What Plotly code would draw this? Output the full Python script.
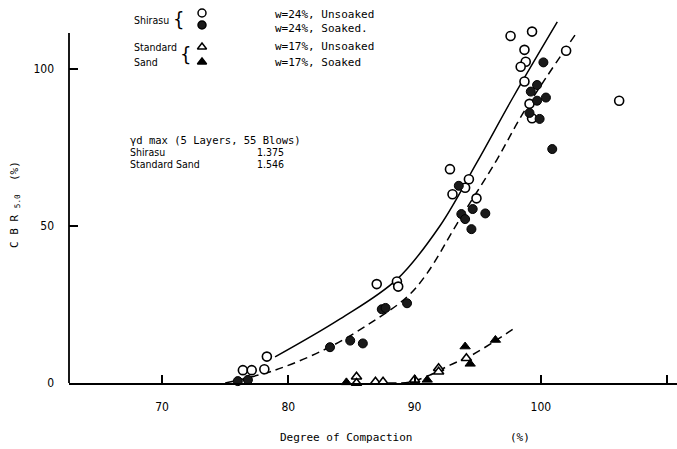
import plotly.graph_objects as go

# --- measured data -------------------------------------------------------
# Shirasu, w=24%, unsoaked (open circles)
shirasu_unsoaked_x = [76.4, 77.1, 78.3, 78.1, 87.0, 88.6, 88.7, 92.8, 94.3, 94.0, 93.0, 94.9,
                      97.6, 99.3, 98.7, 98.8, 98.4, 98.7, 102.0, 99.1, 99.3, 106.2]
shirasu_unsoaked_y = [4.1, 4.1, 8.4, 4.4, 31.5, 32.3, 30.7, 68.1, 64.9, 62.2, 60.1, 58.8,
                      110.5, 111.9, 106.1, 102.3, 100.7, 96.0, 105.8, 88.9, 84.3, 89.9]

# Shirasu, w=24%, soaked (shaded circles)
shirasu_soaked_x = [76.0, 76.8, 83.3, 84.9, 85.9, 87.4, 87.7, 89.4, 93.5, 94.6, 95.6, 93.7,
                    94.0, 94.5, 100.2, 99.7, 99.2, 99.7, 100.4, 99.1, 99.9, 100.9]
shirasu_soaked_y = [0.6, 1.0, 11.4, 13.5, 12.6, 23.5, 23.9, 25.4, 62.8, 55.4, 54.0, 53.8,
                    52.2, 49.0, 102.1, 94.9, 92.8, 89.9, 90.9, 86.0, 84.1, 74.5]

# Standard sand, w=17%, unsoaked (open triangles)
sand_unsoaked_x = [85.4, 85.4, 86.9, 87.5, 90.0, 91.9, 91.9, 94.1]
sand_unsoaked_y = [2.0, 0.0, 0.4, 0.4, 1.0, 4.7, 3.6, 7.9]

# Standard sand, w=17%, soaked (filled triangles)
sand_soaked_x = [84.6, 91.0, 94.0, 94.4, 96.4]
sand_soaked_y = [0.2, 1.0, 11.6, 6.1, 13.7]

# Fitted curves
fit_unsoaked_x = [78.95, 84.1, 88.6, 92.0, 94.9, 97.8, 101.3]
fit_unsoaked_y = [8.3, 20.4, 33.0, 50.0, 70.0, 91.0, 115.0]

fit_soaked_x = [75.0, 78.95, 83.3, 87.0, 89.4, 91.0, 93.4, 96.5, 98.6, 102.7]
fit_soaked_y = [0.0, 4.1, 11.5, 20.4, 27.4, 35.0, 51.0, 71.0, 86.0, 110.8]

fit_sand_x = [87.9, 89.6, 91.2, 92.8, 94.4, 96.5, 97.9]
fit_sand_y = [0.0, 0.3, 2.5, 5.7, 8.6, 13.7, 17.5]

x_ticks = [70, 80, 90, 100, 110]
y_ticks = [0, 50, 100]

# --- layout constants ----------------------------------------------------
W, H = 677, 449
ML, MR, MT, MB = 69, 0, 0, 66
PW, PH = W - ML - MR, H - MT - MB
X_RANGE = [62.63, 110.78]
Y_RANGE = [0, 121.97]
Y_AXIS_TOP = 111.5
MONO = "DejaVu Sans Mono, Liberation Mono, monospace"
NARROW = "Liberation Sans Narrow, Arial Narrow, DejaVu Sans Condensed, Liberation Sans, sans-serif"


def xp(px):
    return (px - ML) / PW


def yp(py):
    return (H - MB - py) / PH


fig = go.Figure()

line_style = dict(color="black", width=1.5)
fig.add_trace(go.Scatter(x=fit_unsoaked_x, y=fit_unsoaked_y, mode="lines",
                         line=dict(**line_style, shape="spline", smoothing=1.0),
                         hoverinfo="skip"))
fig.add_trace(go.Scatter(x=fit_soaked_x, y=fit_soaked_y, mode="lines",
                         line=dict(**line_style, dash="8px,5px", shape="spline", smoothing=1.0),
                         hoverinfo="skip"))
fig.add_trace(go.Scatter(x=fit_sand_x, y=fit_sand_y, mode="lines",
                         line=dict(**line_style, dash="8px,5px", shape="spline", smoothing=1.0),
                         hoverinfo="skip"))

fig.add_trace(go.Scatter(x=shirasu_unsoaked_x, y=shirasu_unsoaked_y, mode="markers",
                         marker=dict(symbol="circle", size=9, color="white",
                                     line=dict(color="black", width=1.6)),
                         cliponaxis=False, name="Shirasu unsoaked"))
fig.add_trace(go.Scatter(x=shirasu_soaked_x, y=shirasu_soaked_y, mode="markers",
                         marker=dict(symbol="circle", size=9, color="#1a1a1a",
                                     line=dict(color="black", width=1)),
                         cliponaxis=False, name="Shirasu soaked"))
fig.add_trace(go.Scatter(x=sand_unsoaked_x, y=sand_unsoaked_y, mode="markers",
                         marker=dict(symbol="triangle-up", size=9, color="white",
                                     line=dict(color="black", width=1.6)),
                         cliponaxis=False, name="Sand unsoaked"))
fig.add_trace(go.Scatter(x=sand_soaked_x, y=sand_soaked_y, mode="markers",
                         marker=dict(symbol="triangle-up", size=9, color="black",
                                     line=dict(color="black", width=1)),
                         cliponaxis=False, name="Sand soaked"))

# legend key symbols, placed on an overlay axis measured in page pixels
key_px_x = [202, 202, 202, 202]
key_px_y = [13, 25, 47, 62]
fig.add_trace(go.Scatter(
    x=key_px_x, y=key_px_y, mode="markers", xaxis="x2", yaxis="y2",
    marker=dict(symbol=["circle", "circle", "triangle-up", "triangle-up"], size=8,
                color=["white", "#1a1a1a", "white", "black"],
                line=dict(color="black", width=1.5)),
    cliponaxis=False, hoverinfo="skip"))

annotations = []


def text(s, px, py, size=11, family=MONO, xanchor="left", **kw):
    annotations.append(dict(text=s, x=xp(px), y=yp(py), xref="paper", yref="paper",
                            xanchor=xanchor, yanchor="middle", showarrow=False,
                            font=dict(family=family, size=size, color="black"), **kw))


# legend text
text("Shirasu", 132, 20, size=10.5, family=NARROW)
text("Standard", 132, 47, size=10.5, family=NARROW)
text("Sand", 132, 62, size=10.5, family=NARROW)
text("{", 178, 19, size=20, family=NARROW, xanchor="center", borderpad=0)
text("{", 185, 54, size=20, family=NARROW, xanchor="center", borderpad=0)
text("w=24%, Unsoaked", 273, 15)
text("w=24%, Soaked.", 273, 28)
text("w=17%, Unsoaked", 273, 47)
text("w=17%, Soaked", 273, 62)

# compaction reference block
text("γd max (5 Layers, 55 Blows)", 128, 140, size=10.5)
text("Shirasu", 128, 152, size=10.5, family=NARROW)
text("1.375", 255, 152, size=10.5, family=NARROW)
text("Standard Sand", 128, 164, size=10.5, family=NARROW)
text("1.546", 255, 164, size=10.5, family=NARROW)

# axis titles
text("Degree of Compaction", 278, 437)
text("(%)", 520, 437, xanchor="center")
text("C B R <sub>5.0</sub>  (%)", 15, 205, xanchor="center", textangle=-90)

fig.update_layout(
    width=W, height=H,
    margin=dict(l=ML, r=MR, t=MT, b=MB),
    paper_bgcolor="white", plot_bgcolor="white",
    showlegend=False,
    font=dict(family=MONO, size=11, color="black"),
    annotations=annotations,
    shapes=[dict(type="line", xref="paper", yref="y", x0=0, x1=0, y0=0, y1=Y_AXIS_TOP,
                 line=dict(color="black", width=1.8))],
    xaxis=dict(range=X_RANGE, tickvals=x_ticks, ticks="inside", ticklen=8, tickwidth=1.5,
               tickcolor="black", showline=True, linecolor="black", linewidth=1.8,
               showgrid=False, zeroline=False, ticklabelstandoff=12,
               tickfont=dict(family=NARROW, size=12)),
    yaxis=dict(range=Y_RANGE, tickvals=y_ticks, ticks="inside", ticklen=9, tickwidth=1.5,
               tickcolor="black", showline=False, showgrid=False, zeroline=False,
               ticklabelstandoff=14, tickfont=dict(family=NARROW, size=12)),
    xaxis2=dict(range=[ML, ML + PW], overlaying="x", visible=False, fixedrange=True),
    yaxis2=dict(range=[MT + PH, MT], overlaying="y", visible=False, fixedrange=True),
)

fig.write_html("out.html")
